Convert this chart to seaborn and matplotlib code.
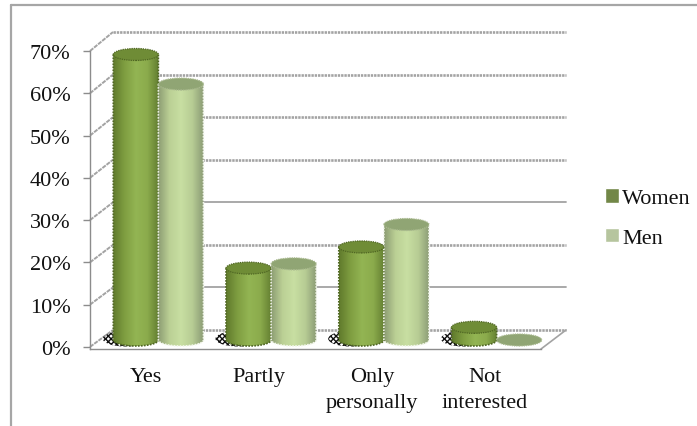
import numpy as np
import pandas as pd
import matplotlib
matplotlib.use("Agg")
import matplotlib.pyplot as plt
from matplotlib.lines import Line2D
from matplotlib.patches import Ellipse, Polygon
from matplotlib.colors import LinearSegmentedColormap
import seaborn as sns

categories = ["Yes", "Partly", "Only\npersonally", "Not\ninterested"]
women = [67.5, 17, 22, 3]
men = [60.5, 18, 27.3, 0]
series_names = ["Women", "Men"]
tick_values = [0, 10, 20, 30, 40, 50, 60, 70]

WIDTH, HEIGHT = 697, 427
GRID = "#A3A3A3"
AXIS = "#8C8C8C"
TEXT = "#111111"

sns.set_theme(style="white")
plt.rcParams["font.family"] = ["Liberation Serif", "DejaVu Serif"]
plt.rcParams["hatch.linewidth"] = 1.0

fig = plt.figure(figsize=(WIDTH / 100, HEIGHT / 100), dpi=100, facecolor="white")


def axes_from_pixels(x0, y_top, x1, y_bottom, **kw):
    return fig.add_axes(
        [x0 / WIDTH, 1 - y_bottom / HEIGHT, (x1 - x0) / WIDTH, (y_bottom - y_top) / HEIGHT], **kw
    )


# Three parallel planes give the oblique depth: back wall, bar centres, front axis.
ax_back = axes_from_pixels(113, 33, 566, 331)
ax_front = axes_from_pixels(90, 52, 541, 350)
ax_bars = axes_from_pixels(102, 45, 553, 350)
BAR_LIMITS = (-9 / 4.23, 296 / 4.23)

for a in (ax_back, ax_front, ax_bars):
    a.patch.set_alpha(0)
    a.set_xlim(-0.5, 3.5)

ax_back.set_ylim(0, 70)
ax_front.set_ylim(-0.5, 70)
ax_bars.set_ylim(*BAR_LIMITS)
ax_back.set_zorder(1)
ax_front.set_zorder(2)
ax_bars.set_zorder(3)

# Back wall gridlines
ax_back.axis("off")
for v in tick_values:
    if v in (10, 30):
        ax_back.axhline(v, color=GRID, lw=1.3, clip_on=False)
    else:
        ax_back.axhline(v, color=GRID, lw=1.9, ls=(0, (0.9, 0.35)), clip_on=False)

# Front axis with ticks and labels
sns.despine(ax=ax_front, top=True, right=True)
for side in ("left", "bottom"):
    ax_front.spines[side].set_color(AXIS)
    ax_front.spines[side].set_linewidth(1.0)
ax_front.set_yticks(tick_values)
ax_front.set_yticklabels([f"{v}%" for v in tick_values], fontsize=16, color=TEXT)
ax_front.set_xticks(range(len(categories)))
ax_front.set_xticklabels(categories, fontsize=16, color=TEXT, linespacing=1.5)
ax_front.set_xticks(np.arange(-0.5, 4), minor=True)
ax_front.tick_params(axis="x", which="major", length=0, pad=13)
ax_front.tick_params(axis="x", which="minor", length=4, width=1, color=AXIS)
ax_front.tick_params(axis="y", length=5, width=1, color=AXIS, pad=9, left=True)


# Oblique connectors between the front axis and the back wall
def to_fig(ax, x, y):
    return fig.transFigure.inverted().transform(ax.transData.transform((x, y)))


for v in tick_values:
    p0, p1 = to_fig(ax_front, -0.5, v), to_fig(ax_back, -0.5, v)
    fig.add_artist(Line2D([p0[0], p1[0]], [p0[1], p1[1]], color=GRID, lw=1.4,
                          ls=(0, (2.2, 0.5)), zorder=1))
p0, p1 = to_fig(ax_front, 3.5, -0.5), to_fig(ax_back, 3.5, 0)
fig.add_artist(Line2D([p0[0], p1[0]], [p0[1], p1[1]], color=GRID, lw=1.2, zorder=1))

# Bars
data = pd.DataFrame({
    "category": categories * 2,
    "share": women + men,
    "series": [series_names[0]] * 4 + [series_names[1]] * 4,
})
palette = {"Women": "#76923C", "Men": "#B8CC97"}
sns.barplot(data=data, x="category", y="share", hue="series", hue_order=series_names,
            palette=palette, order=categories, width=0.8, gap=0, ax=ax_bars,
            errorbar=None, legend=True)
ax_bars.axis("off")

sides = {
    "Women": LinearSegmentedColormap.from_list("w", ["#607A2C", "#7F9E41", "#93B553", "#8BAB4C", "#627D30"]),
    "Men": LinearSegmentedColormap.from_list("m", ["#8C9C73", "#BBD095", "#C8DFA2", "#B7CC94", "#8A9A74"]),
}
caps = {"Women": "#6F8C36", "Men": "#90A574"}
edges = {"Women": "#4F6623", "Men": "#F2F6EA"}
ramp = np.linspace(0, 1, 128).reshape(1, -1)
cap_height = 12 / 4.23  # in percent units

bars_by_series = {"Women": ax_bars.patches[:4], "Men": ax_bars.patches[4:8]}
for name in series_names:
    for bar in bars_by_series[name]:
        x, w, h = bar.get_x(), bar.get_width(), bar.get_height()
        cx = x + w / 2
        bar.set_visible(False)

        if name == "Women":
            # Stippled contact shadow under the cylinder
            ax_bars.add_patch(Ellipse((cx - 0.09, 0.3), w * 1.02, cap_height * 1.3, facecolor="none",
                                      edgecolor="#111111", hatch="xxxxxx", lw=0, zorder=1.5))

        if h > 0.5:
            t = np.linspace(np.pi, 2 * np.pi, 40)
            body = np.vstack([
                [[x, h]],
                np.column_stack([cx + w / 2 * np.cos(t), cap_height / 2 * np.sin(t)]),
                [[x + w, h]],
            ])
            img = ax_bars.imshow(ramp, cmap=sides[name], extent=(x, x + w, -cap_height / 2, h),
                                 aspect="auto", zorder=2, interpolation="bilinear")
            img.set_clip_path(Polygon(body, closed=True, transform=ax_bars.transData))
            ax_bars.add_patch(Polygon(body, closed=True, facecolor="none", edgecolor=edges[name],
                                      lw=1.2, ls=(0, (1, 0.8)), zorder=2.2))
        ax_bars.add_patch(Ellipse((cx, h), w, cap_height, facecolor=caps[name],
                                  edgecolor=edges[name] if name == "Women" else "#A9B98F",
                                  lw=0.9, ls=(0, (1, 0.8)), zorder=2.5))
ax_bars.set_xlim(-0.5, 3.5)
ax_bars.set_ylim(*BAR_LIMITS)

# Legend
sns.move_legend(ax_bars, loc="center left", bbox_to_anchor=(605 / WIDTH, 1 - 219 / HEIGHT),
                bbox_transform=fig.transFigure, frameon=False, title=None,
                fontsize=16, handlelength=0.62, handleheight=0.62, handletextpad=0.15,
                labelspacing=0.87, borderaxespad=0, borderpad=0, labelcolor=TEXT)

# Outer chart frame: top and left edges only
frame = dict(color="#A6A6A6", lw=1.6, zorder=0)
fig.add_artist(Line2D([11 / WIDTH, 1], [1 - 6 / HEIGHT, 1 - 6 / HEIGHT], **frame))
fig.add_artist(Line2D([11 / WIDTH, 11 / WIDTH], [1 - 6 / HEIGHT, 0], **frame))

fig.savefig("out.png", dpi=100, facecolor="white")
